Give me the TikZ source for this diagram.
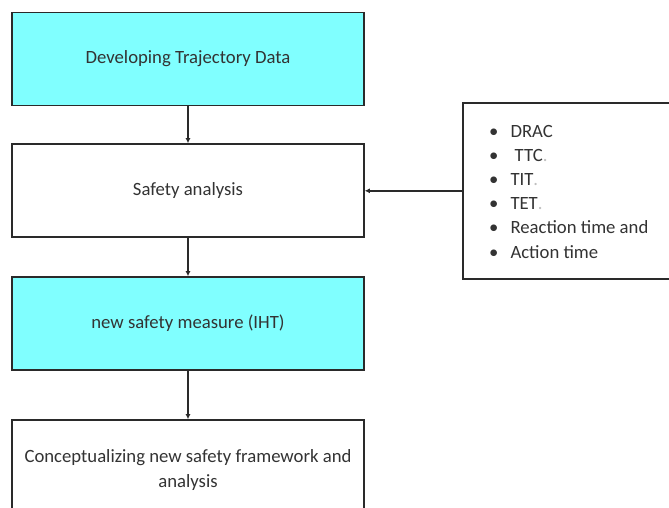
\documentclass[tikz,border=0pt]{standalone}
\usepackage{fontspec}
\setmainfont{Carlito}
\usetikzlibrary{arrows.meta}
\definecolor{boxcyan}{HTML}{80FFFF}
\definecolor{ink}{HTML}{333333}
\definecolor{edge}{HTML}{2A2A2A}
\begin{document}
\begin{tikzpicture}[x=1pt,y=-1pt,
  box/.style={draw=edge, line width=1.6pt, minimum width=352pt, minimum height=93pt,
    inner sep=0pt, text=ink, font=\fontsize{18.7}{25}\selectfont, align=center},
  flow/.style={draw=edge, line width=1.4pt, -{Latex[length=5pt,width=5pt]}}]
\useasboundingbox (0,0) rectangle (669,507);
\fill[white] (0,0) rectangle (669,507);
\begin{scope}
\clip (0,0) rectangle (669,507);
\node[box, fill=boxcyan] (b1) at (188,59) {Developing Trajectory Data};
\node[box] (b2) at (188,190.5) {Safety analysis};
\node[box, fill=boxcyan] (b3) at (188,323.5) {new safety measure (IHT)};
\node[box, minimum height=100pt] (b4) at (188,470) {Conceptualizing new safety framework and\\analysis};
\node[draw=edge, line width=1.6pt, minimum width=250pt, minimum height=176pt, inner sep=0pt, anchor=north west] (m) at (462,102) {};
\node[anchor=north west, inner sep=0pt, text=ink, font=\fontsize{18.7}{24.2}\selectfont] (list) at (489,120)
{\begin{tabular}{@{}l@{\hspace{12pt}}l@{}}
\textbullet & DRAC\\
\textbullet & \ TTC{\color{black!25}.}\\
\textbullet & TIT{\color{black!25}.}\\
\textbullet & TET{\color{black!25}.}\\
\textbullet & Reaction time and\\
\textbullet & Action time
\end{tabular}};
\end{scope}
\draw[flow] (b1.south) -- (b2.north);
\draw[flow] (b2.south) -- (b3.north);
\draw[flow] (b3.south) -- (b4.north);
\draw[flow] (m.west) -- (m.west -| b2.east);
\end{tikzpicture}
\end{document}
